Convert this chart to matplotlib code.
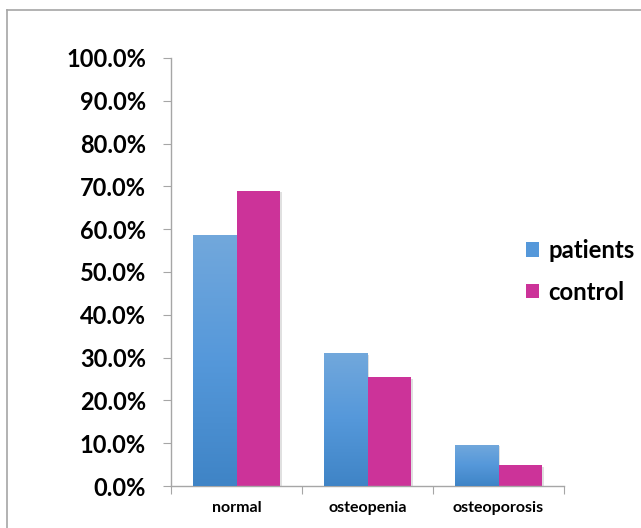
import matplotlib.pyplot as plt
import numpy as np
from matplotlib.colors import LinearSegmentedColormap
from matplotlib.lines import Line2D
from matplotlib.patches import Patch
from matplotlib.ticker import FuncFormatter

categories = ['normal', 'osteopenia', 'osteoporosis']
patients = [58.6, 31.1, 9.7]
control = [69.0, 25.5, 4.9]
series_names = ['patients', 'control']

plt.rcParams['font.family'] = ['Lato', 'DejaVu Sans']

fig = plt.figure(figsize=(6.41, 5.28), dpi=100)
ax = fig.add_axes([0.2668, 0.0795, 0.6131, 0.8107])

x = np.arange(len(categories))
w = 1 / 3

blue_cmap = LinearSegmentedColormap.from_list('blu', ['#3f84c6', '#5598da', '#72a8dc'])
pink = '#cc3399'

# soft shadow
for xs, vals in [(x - w / 2, patients), (x + w / 2, control)]:
	ax.bar(xs + 0.012, vals, w, bottom=-0.4, color='#000000', alpha=0.12, zorder=1)

pbars = ax.bar(x - w / 2, patients, w, color='#5598da', zorder=2)
cbars = ax.bar(x + w / 2, control, w, color=pink, zorder=2)

grad = np.linspace(0, 1, 256).reshape(-1, 1)
for b in pbars:
	x0, y0 = b.get_x(), b.get_y()
	im = ax.imshow(grad, cmap=blue_cmap, origin='lower', aspect='auto',
		extent=[x0, x0 + b.get_width(), y0, y0 + b.get_height()], zorder=3)
	im.set_clip_path(b)

ax.set_xlim(-0.5, 2.5)
ax.set_ylim(0, 100)
ax.set_yticks(np.arange(0, 101, 10))
ax.yaxis.set_major_formatter(FuncFormatter(lambda v, p: '{:.1f}%'.format(v)))

ax.set_xticks([-0.5, 0.5, 1.5, 2.5])
ax.set_xticklabels([])
ax.set_xticks(x, minor=True)
ax.set_xticklabels(categories, minor=True, fontsize=11.5, fontweight='bold')
ax.tick_params(axis='x', which='minor', length=0, pad=11)
ax.tick_params(axis='x', which='major', length=6, color='#a6a6a6')
ax.tick_params(axis='y', length=6, color='#a6a6a6', pad=12, labelsize=17)
for t in ax.get_yticklabels():
	t.set_fontweight('bold')

for s in ['top', 'right']:
	ax.spines[s].set_visible(False)
for s in ['left', 'bottom']:
	ax.spines[s].set_color('#a6a6a6')
	ax.spines[s].set_linewidth(1.0)

handles = [Patch(facecolor='#5598da', label=series_names[0]),
	Patch(facecolor=pink, label=series_names[1])]
fig.legend(handles=handles, loc='upper left', bbox_to_anchor=(0.787, 0.588),
	frameon=False, prop={'size': 17.2, 'weight': 'bold'},
	handlelength=0.55, handleheight=0.55, handletextpad=0.4, labelspacing=0.78)

# outer chart border
fig.add_artist(Line2D([7 / 641, 1], [1 - 10 / 528, 1 - 10 / 528], color='#a6a6a6', lw=1.2))
fig.add_artist(Line2D([7 / 641, 7 / 641], [0, 1 - 10 / 528], color='#a6a6a6', lw=1.2))

fig.savefig('out.png', dpi=100)
